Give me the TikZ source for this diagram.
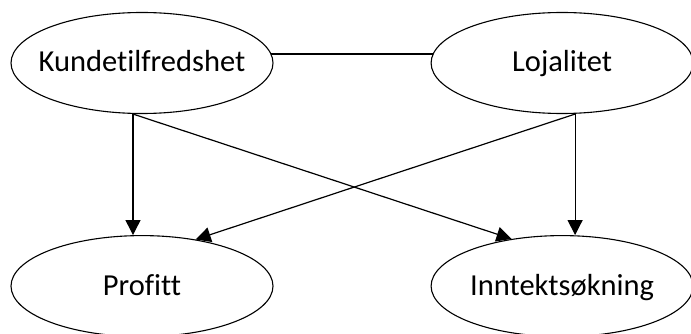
\documentclass[tikz,border=0pt]{standalone}
\usepackage{fontspec}
\setmainfont{Carlito}[Ligatures=NoCommon]
\usepackage{tikz}
\usetikzlibrary{shapes.geometric, arrows.meta, calc, positioning}
\tikzstyle{factor} = [ellipse, draw=black, line width=1.1pt, minimum width=262pt, minimum height=101pt, inner sep=0pt, text height=24pt, text depth=6pt, text centered, font=\fontsize{30.5}{36}\selectfont]
\tikzstyle{link} = [line width=1.2pt]
\tikzstyle{arrow} = [line width=1.2pt,-{Triangle[length=15pt,width=15pt]}]
\newcommand{\factorname}[1]{\makebox[0pt]{#1}}

\begin{document}
\begin{tikzpicture}[node distance = 121pt and 157pt]
		\useasboundingbox (0,0) rectangle (691pt,-334pt);
		\node (Kunde) [factor] at (142pt,-63pt) {\factorname{Kundetilfredshet}};
		\node (Lojalitet) [factor, right = of Kunde] {\factorname{Lojalitet}};
		\node (Profitt) [factor, below = of Kunde] {\factorname{Profitt}};
		\node (Inntekt) [factor, right = of Profitt] {\factorname{Inntektsøkning}};
		\coordinate (KundeBottom) at ([xshift=-9pt]Kunde.south);
		\coordinate (LojalitetBottom) at ([xshift=13pt]Lojalitet.south);
		\draw [link] (Kunde.4) -- (Lojalitet.176);
		\draw [arrow] (KundeBottom) -- ([xshift=-9pt]Profitt.north);
		\draw [arrow] (KundeBottom) -- (Inntekt.137);
		\draw [arrow] (LojalitetBottom) -- ([xshift=13pt]Inntekt.north);
		\draw [arrow] (LojalitetBottom) -- (Profitt.41);
		\end{tikzpicture}
\end{document}
